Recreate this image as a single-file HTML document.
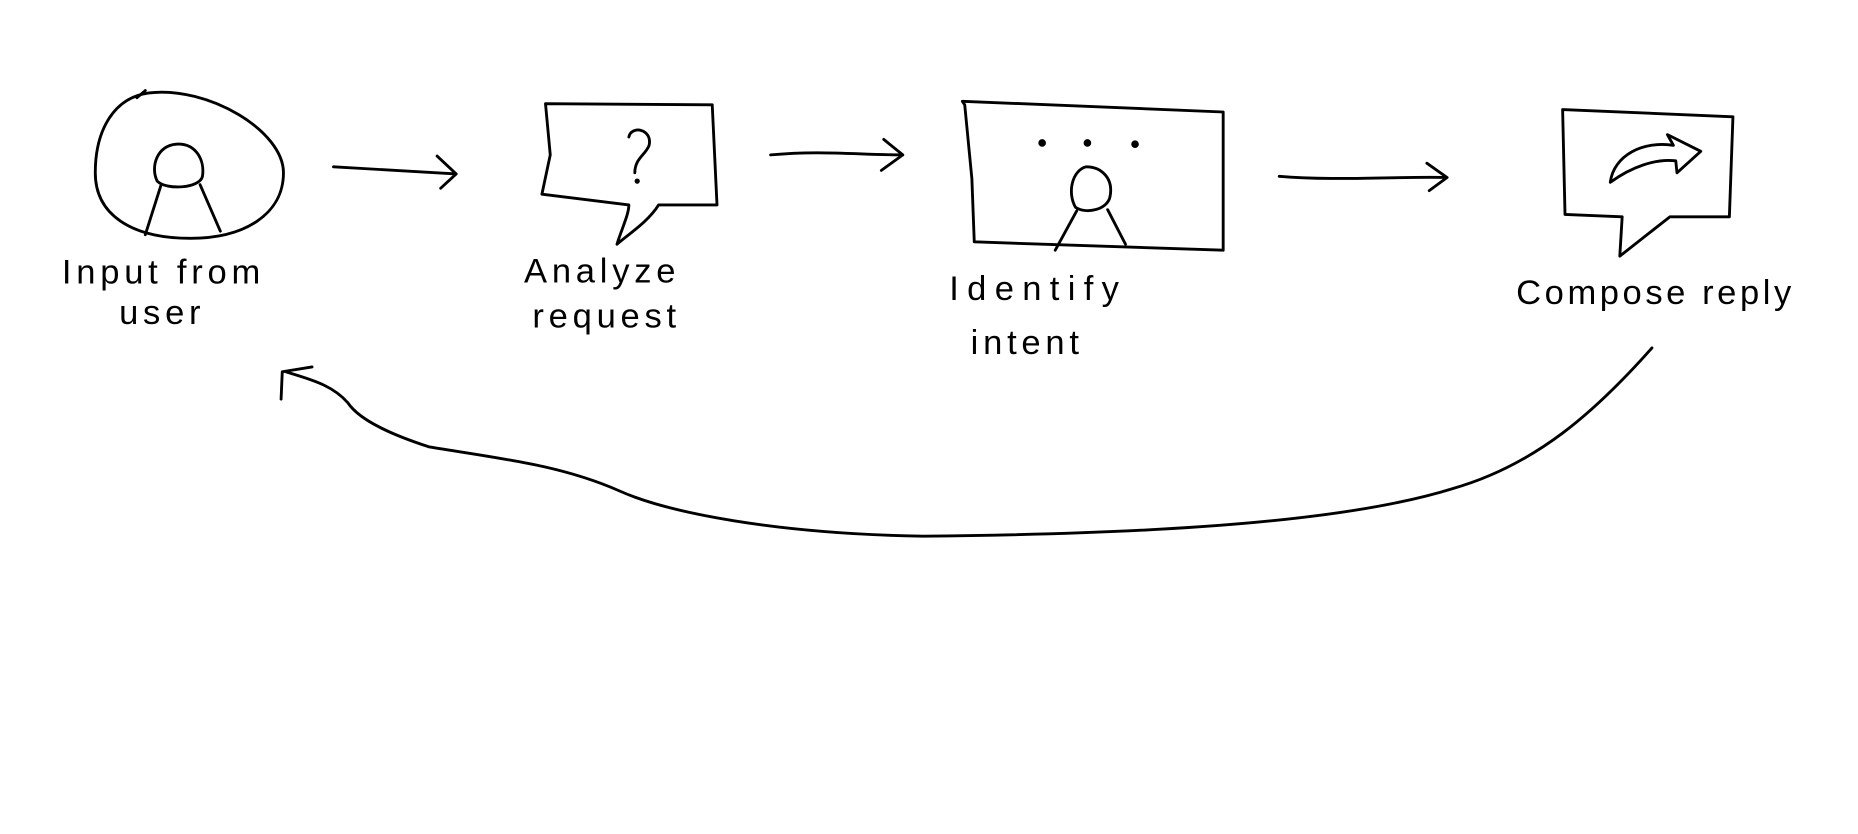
<!DOCTYPE html>
<html><head><meta charset="utf-8"><style>
html,body{margin:0;padding:0;background:#fff;width:1858px;height:834px;overflow:hidden}
svg{display:block}
text{font-family:"Liberation Sans",sans-serif;font-size:29px;fill:#000;letter-spacing:4px}
</style></head><body>
<svg width="1858" height="834" viewBox="0 0 1560 700" preserveAspectRatio="none" xmlns="http://www.w3.org/2000/svg">
<g fill="none" stroke="#000" stroke-width="2.4" stroke-linecap="round" stroke-linejoin="round">
<!-- node 1 -->
<path d="M125,78 C175,72 238,110 238,145 C238,180 205,200 160,200 C110,200 80,180 80,145 C80,110 95,82 125,78 Z"/>
<path d="M115,82 L122,76"/>
<path d="M148,121 C165,120 172,135 170,148 C168,158 140,160 132,152 C126,140 132,122 148,121 Z"/>
<path d="M135,156 L122,197 M168,155 L185,194"/>
<!-- arrow 1 -->
<path d="M280,140 L383,146 M367,131 L383,146 L370,158"/>
<!-- node 2 -->
<path d="M458,87 L598,88 L602,172 L553,172 C545,185 530,195 518,205 C522,192 528,180 528,172 L455,163 L462,130 Z"/>
<path d="M528,115 C530,105 548,108 545,122 C542,130 533,133 533,145"/>
<circle cx="535" cy="152" r="1" fill="#000"/>
<!-- arrow 2 -->
<path d="M647,130 C690,126 720,130 758,130 M742,117 L758,130 L740,143"/>
<!-- node 3 -->
<path d="M808,85 L1027,94 L1027,210 L818,203 L816,150 L810,88 Z"/>
<circle cx="875" cy="120" r="2" fill="#000"/><circle cx="913" cy="120" r="2" fill="#000"/><circle cx="953" cy="121" r="2" fill="#000"/>
<path d="M912,140 C925,140 935,150 932,165 C930,176 912,180 903,174 C896,162 900,143 912,140 Z"/>
<path d="M904,177 L886,210 M930,176 L945,205"/>
<!-- arrow 3 -->
<path d="M1074,148 C1120,152 1170,148 1215,149 M1198,137 L1215,149 L1200,160"/>
<!-- node 4 -->
<path d="M1312,92 L1455,98 L1452,182 L1402,182 L1360,215 L1362,182 L1314,180 L1312,92"/>
<path d="M1352,153 C1355,130 1380,118 1405,122 L1400,113 L1428,127 L1408,145 L1407,135 C1390,133 1370,140 1352,153 Z"/>
<!-- return arrow -->
<path d="M1387,292 C1340,345 1290,390 1220,410 C1140,435 1000,448 775,450 C650,448 560,430 520,412 C470,390 420,385 360,375 C320,362 300,350 292,338 C278,322 258,318 240,312"/>
<path d="M236,335 L237,312 L262,308"/>
</g>
<text x="52" y="238">Input from</text>
<text x="100" y="272">user</text>
<text x="440" y="237">Analyze</text>
<text x="447" y="275">request</text>
<text x="797" y="252" style="letter-spacing:7px">Identify</text>
<text x="815" y="297">intent</text>
<text x="1273" y="255" style="letter-spacing:3px">Compose reply</text>
</svg>
</body></html>
